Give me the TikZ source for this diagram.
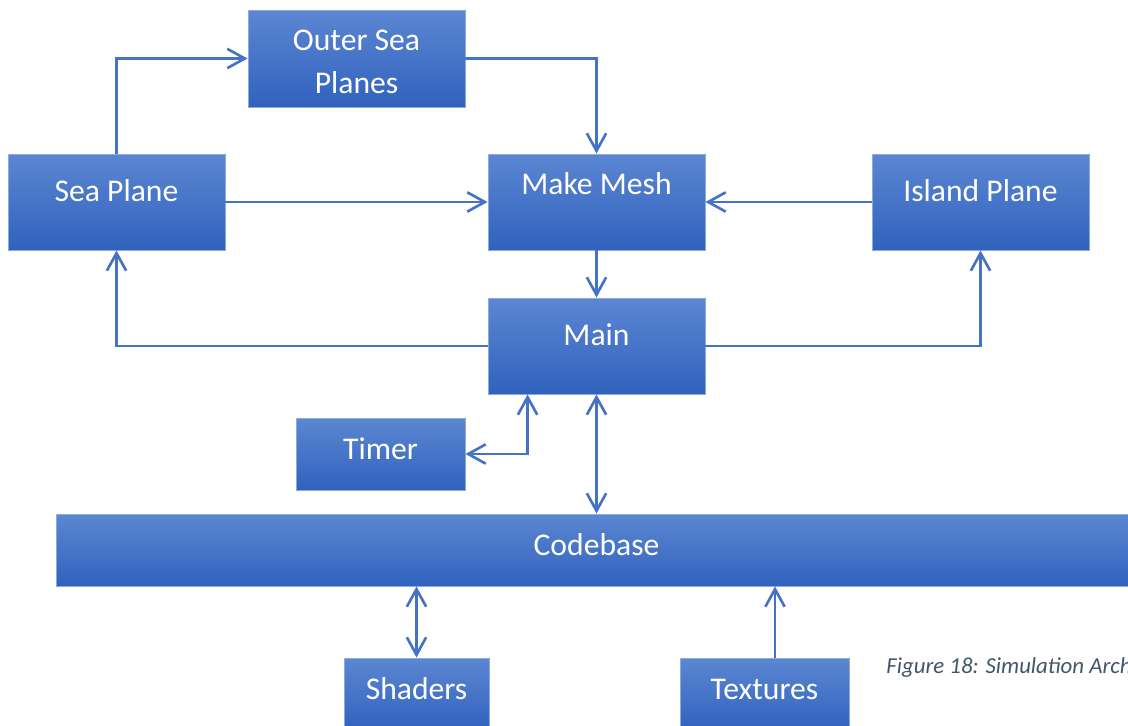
\documentclass[tikz,border=0pt]{standalone}
\usepackage{fontspec}
\setmainfont{Carlito}
\usetikzlibrary{arrows.meta,calc}
\definecolor{boxtop}{RGB}{92,134,210}
\definecolor{boxbot}{RGB}{48,98,190}
\definecolor{boxline}{RGB}{140,170,225}
\definecolor{link}{RGB}{68,114,196}
\definecolor{capgray}{RGB}{68,84,106}
\tikzset{
  block/.style={rectangle, draw=boxline, line width=0.5pt, top color=boxtop, bottom color=boxbot,
    text=white, inner sep=0pt, font=\fontsize{18}{24.4}\selectfont,
    minimum width=4.34cm, minimum height=1.92cm},
  lift/.style={text height=12pt, text depth=#1},
  link/.style={draw=link, line width=1.5pt, -{Straight Barb[length=10pt,width=11pt]}},
  dlink/.style={draw=link, line width=1.5pt, {Straight Barb[length=10pt,width=11pt]}-{Straight Barb[length=10pt,width=11pt]}}
}
\begin{document}
\begin{tikzpicture}[x=0.02cm, y=-0.02cm]
			\useasboundingbox (0, 0) rectangle (1128, 726);
			\clip (0, 0) rectangle (1128, 726);
			\draw (356.5, 58.5) node [block, align=center, minimum height=1.94cm, text height=40pt, text depth=0pt] (outer) {Outer Sea\\Planes};
			\draw (116.5, 202) node [block, lift=13pt] (sea) {Sea Plane};
			\draw (596.5, 202) node [block, lift=20pt] (mesh) {Make Mesh};
			\draw (980.5, 202) node [block, lift=13pt] (island) {Island Plane};
			\draw (596.5, 346) node [block, lift=13pt] (main) {Main};
			\draw (380.5, 454) node [block, lift=6pt, minimum width=3.38cm, minimum height=1.44cm] (timer) {Timer};
			\draw (596.5, 550) node [block, lift=6pt, minimum width=21.62cm, minimum height=1.44cm] (code) {Codebase};
			\draw (416.5, 694) node [block, lift=6pt, minimum width=2.9cm, minimum height=1.44cm] (shaders) {Shaders};
			\draw (764.5, 694) node [block, lift=6pt, minimum width=3.38cm, minimum height=1.44cm] (textures) {Textures};
			\draw (886, 668) node [anchor=west, inner sep=0pt, text=capgray, font=\fontsize{13}{16}\selectfont\itshape] (cap) {Figure 18: Simulation Architecture};
			\coordinate (tm) at ([xshift=0.8cm]main.south west);
			\coordinate (tx) at ([xshift=0.21cm]textures.north);
			\draw [link] (sea.north) |- (outer.west);
			\draw [link] (outer.east) -| (mesh.north);
			\draw [link] (sea.east) -- (mesh.west);
			\draw [link] (island.west) -- (mesh.east);
			\draw [link] (mesh.south) -- (main.north);
			\draw [link] (main.west) -| (sea.south);
			\draw [link] (main.east) -| (island.south);
			\draw [dlink] (tm) |- (timer.east);
			\draw [dlink] (main.south) -- (main.south |- code.north);
			\draw [dlink] (shaders.north |- code.south) -- (shaders.north);
			\draw [link] (tx) -- (tx |- code.south);
		\end{tikzpicture}
\end{document}
